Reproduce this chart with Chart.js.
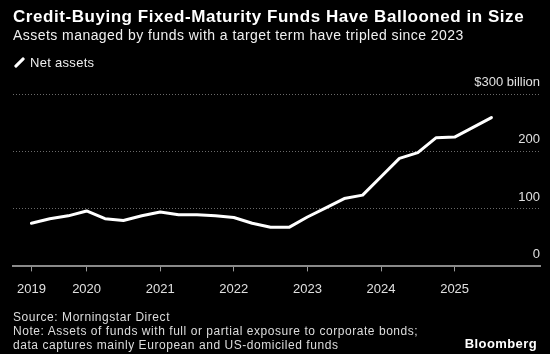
<!DOCTYPE html>
<html>
<head>
<meta charset="utf-8">
<script src="https://cdn.jsdelivr.net/npm/chart.js@4"></script>
<style>
  html, body { margin: 0; padding: 0; background: #000; }
  body { width: 550px; height: 354px; position: relative; overflow: hidden; font-family: "Liberation Sans", Arial, sans-serif; color: #fff; }
  #chartWrap { position: absolute; left: 0; top: 0; width: 550px; height: 354px; }
  .txt { position: absolute; white-space: nowrap; }
  #title { left: 13px; top: 7px; font-size: 17px; font-weight: bold; letter-spacing: 0.55px; }
  #subtitle { left: 13px; top: 27px; font-size: 14px; color: #f0f0f0; letter-spacing: 0.45px; }
  #legend { left: 14px; top: 55px; font-size: 13px; color: #eee; letter-spacing: 0.3px; }
  #legend .mark { display: inline-block; width: 3px; height: 13px; background: #fff; transform: rotate(45deg); margin: 0 9px -2px 4px; border-radius: 1px; }
  #source { left: 13px; top: 310px; font-size: 12px; color: #ddd; line-height: 14px; letter-spacing: 0.55px; }
  #brand { right: 13px; top: 336px; font-size: 13px; font-weight: bold; letter-spacing: 0.4px; }
</style>
</head>
<body>
<div id="chartWrap"><canvas id="chart" width="550" height="354"></canvas></div>
<div class="txt" id="title">Credit-Buying Fixed-Maturity Funds Have Ballooned in Size</div>
<div class="txt" id="subtitle">Assets managed by funds with a target term have tripled since 2023</div>
<div class="txt" id="legend"><span class="mark"></span><span id="legendLabel"></span></div>
<div class="txt" id="source">Source: Morningstar Direct<br>Note: Assets of funds with full or partial exposure to corporate bonds;<br>data captures mainly European and US-domiciled funds</div>
<div class="txt" id="brand">Bloomberg</div>
<script>
// quarter-end months, Q1 2019 .. Q2 2025
const quarters = [
  '2019-03', '2019-06', '2019-09', '2019-12',
  '2020-03', '2020-06', '2020-09', '2020-12',
  '2021-03', '2021-06', '2021-09', '2021-12',
  '2022-03', '2022-06', '2022-09', '2022-12',
  '2023-03', '2023-06', '2023-09', '2023-12',
  '2024-03', '2024-06', '2024-09', '2024-12',
  '2025-03', '2025-06'
];
// net assets, $ billion
const netAssets = [
  75, 83, 88, 96.5,
  83, 80, 88, 94.5,
  90, 90, 88, 85,
  75, 68, 68, 86,
  102, 118, 124, 156,
  188, 198, 224, 225,
  242, 259
];
const seriesLabel = 'Net assets';
const xTickValues = [2019.25, 2020, 2021, 2022, 2023, 2024, 2025];
const xTickLabels = ['2019', '2020', '2021', '2022', '2023', '2024', '2025'];
const yTickValues = [0, 100, 200, 300];
const yTickLabels = ['0', '100', '200', '$300 billion'];

function toYear(s) {
  const [y, m] = s.split('-').map(Number);
  return y + m / 12;
}

document.getElementById('legendLabel').textContent = seriesLabel;

const points = quarters.map((q, i) => ({ x: toYear(q), y: netAssets[i] }));
const tickFont = { family: '"Liberation Sans", Arial, sans-serif', size: 13 };

new Chart(document.getElementById('chart'), {
  type: 'line',
  data: {
    datasets: [{
      label: seriesLabel,
      data: points,
      borderColor: '#fff',
      borderWidth: 3,
      pointRadius: 0,
      tension: 0,
      borderJoinStyle: 'round',
      borderCapStyle: 'round'
    }]
  },
  options: {
    responsive: false,
    animation: false,
    layout: { padding: { left: 13, right: 10, top: 94, bottom: 47 } },
    plugins: { legend: { display: false }, tooltip: { enabled: false } },
    scales: {
      x: {
        type: 'linear',
        min: 2019.0,
        max: 2026.16,
        afterBuildTicks: axis => { axis.ticks = xTickValues.map(v => ({ value: v })); },
        grid: { drawOnChartArea: false, color: '#999', tickLength: 5, lineWidth: 1 },
        border: { display: true, color: '#8a8a8a', width: 2, z: 2 },
        ticks: {
          color: '#e0e0e0',
          font: tickFont,
          padding: 10,
          maxRotation: 0,
          autoSkip: false,
          callback: v => xTickLabels[xTickValues.indexOf(v)]
        }
      },
      y: {
        position: 'right',
        min: 0,
        max: 300,
        afterBuildTicks: axis => { axis.ticks = yTickValues.map(v => ({ value: v })); },
        grid: {
          drawTicks: false,
          tickLength: 0,
          color: ctx => ctx.tick && ctx.tick.value === 0 ? 'rgba(0,0,0,0)' : '#6a6a6a',
          lineWidth: 1
        },
        border: { display: false, dash: [1, 2] },
        ticks: {
          mirror: true,
          padding: 0,
          labelOffset: -12,
          color: '#e0e0e0',
          font: tickFont,
          callback: v => yTickLabels[yTickValues.indexOf(v)]
        }
      }
    }
  }
});
</script>
</body>
</html>
